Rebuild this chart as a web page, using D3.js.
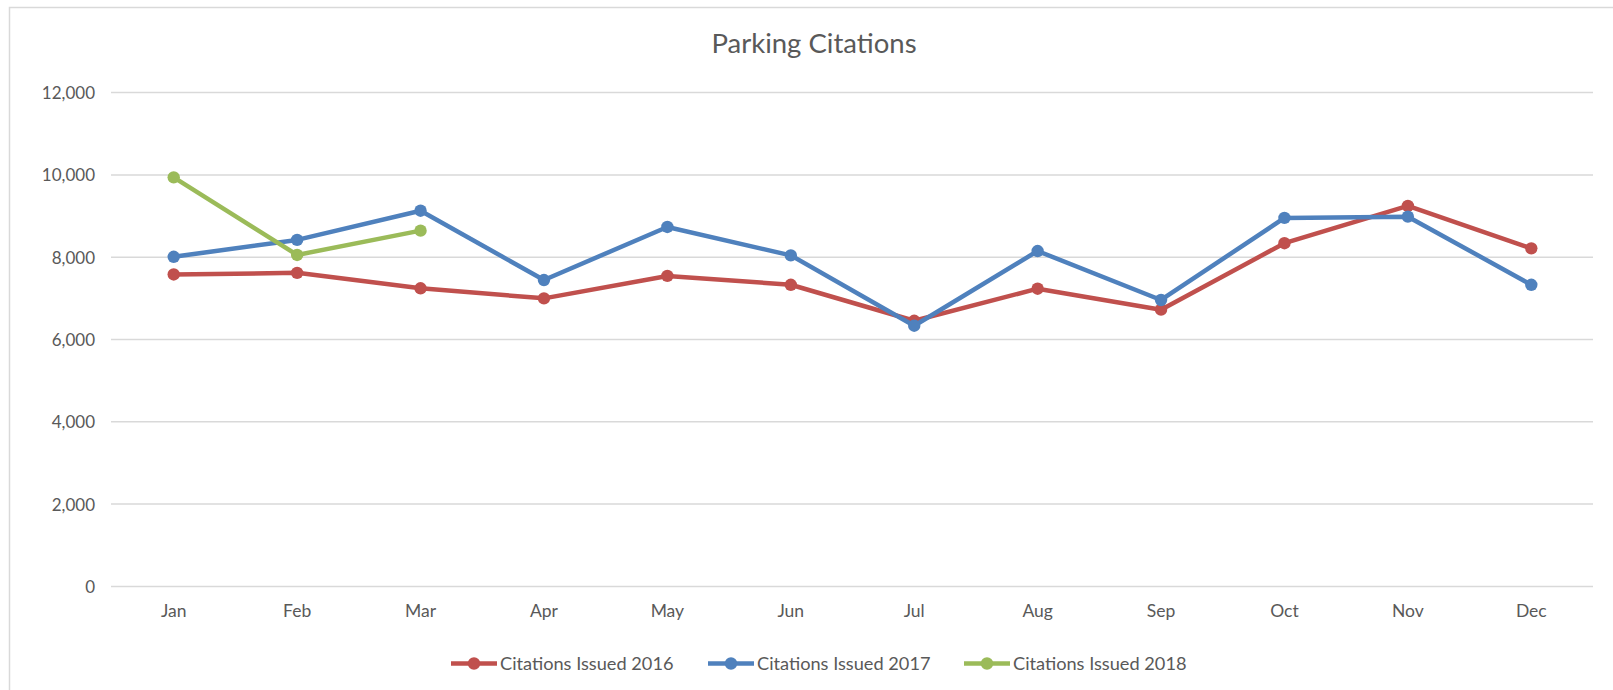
<!DOCTYPE html>
<html>
<head>
<meta charset="utf-8">
<script src="https://cdn.jsdelivr.net/npm/d3@7"></script>
<style>
  html, body { margin: 0; padding: 0; background: #fff; }
  svg { display: block; }
  text { font-family: Lato, "Open Sans", sans-serif; fill: #595959; }
</style>
</head>
<body>
<svg id="chart" width="1613" height="690"></svg>
<script>
const title = "Parking Citations";
const months = ["Jan","Feb","Mar","Apr","May","Jun","Jul","Aug","Sep","Oct","Nov","Dec"];
const seriesNames = ["Citations Issued 2016", "Citations Issued 2017", "Citations Issued 2018"];
const values2016 = [7580, 7620, 7245, 7000, 7545, 7330, 6455, 7235, 6725, 8340, 9245, 8215];
const values2017 = [8010, 8420, 9130, 7445, 8735, 8045, 6335, 8150, 6960, 8955, 8985, 7330];
const values2018 = [9940, 8055, 8645];
const yTicks = [0, 2000, 4000, 6000, 8000, 10000, 12000];
const colors = ["#C0504D", "#4F81BD", "#9BBB59"];

const series = [values2016, values2017, values2018].map((vals, i) => ({
  name: seriesNames[i], color: colors[i],
  points: vals.map((v, j) => ({ month: months[j], value: v }))
}));

const svg = d3.select("#chart");
const W = 1613, H = 690;
const plot = { left: 112, right: 1593, top: 92.6, bottom: 586.4 };

// chart border (top and left visible)
svg.append("rect")
  .attr("x", 9.5).attr("y", 7.5)
  .attr("width", W + 20).attr("height", H + 20)
  .attr("fill", "none").attr("stroke", "#d9d9d9").attr("stroke-width", 1.5);

const x = d3.scaleBand().domain(months).range([plot.left, plot.right]).paddingInner(0).paddingOuter(0);
const y = d3.scaleLinear().domain([0, 12000]).range([plot.bottom, plot.top]);

// title
svg.append("text")
  .attr("x", 814).attr("y", 53)
  .attr("text-anchor", "middle")
  .style("font-size", "27.5px")
  .text(title);

// gridlines
svg.append("g").selectAll("line").data(yTicks).join("line")
  .attr("x1", plot.left - 1).attr("x2", plot.right)
  .attr("y1", d => y(d)).attr("y2", d => y(d))
  .attr("stroke", "#d9d9d9").attr("stroke-width", 1.5);

// y axis labels
const yAxis = d3.axisLeft(y).tickValues(yTicks).tickFormat(d3.format(",")).tickSize(0).tickPadding(0);
const yg = svg.append("g").attr("transform", `translate(${95},0)`).call(yAxis);
yg.select(".domain").remove();
yg.selectAll("text").style("font-size", "17px").attr("fill", "#595959").attr("dy", "0.35em")
  .style("font-family", "Lato, 'Open Sans', sans-serif");

// x axis labels
const xAxis = d3.axisBottom(x).tickSize(0).tickPadding(0);
const xg = svg.append("g").attr("transform", `translate(0,${605})`).call(xAxis);
xg.select(".domain").remove();
xg.selectAll("text").style("font-size", "17.5px").attr("fill", "#595959").attr("dy", "0.71em")
  .style("font-family", "Lato, 'Open Sans', sans-serif");

const cx = d => x(d.month) + x.bandwidth() / 2;
const line = d3.line().x(cx).y(d => y(d.value));

const sg = svg.append("g").selectAll("g").data(series).join("g");
sg.append("path")
  .attr("d", d => line(d.points))
  .attr("fill", "none")
  .attr("stroke", d => d.color)
  .attr("stroke-width", 4.5)
  .attr("stroke-linejoin", "round");
sg.selectAll("circle").data(d => d.points.map(p => ({ ...p, color: d.color }))).join("circle")
  .attr("cx", cx).attr("cy", d => y(d.value))
  .attr("r", 6.2)
  .attr("fill", d => d.color);

// legend
const legendX = [451, 708, 964];
const lg = svg.append("g").selectAll("g").data(series).join("g")
  .attr("transform", (d, i) => `translate(${legendX[i]},${663.5})`);
lg.append("line").attr("x1", 0).attr("x2", 46).attr("y1", 0).attr("y2", 0)
  .attr("stroke", d => d.color).attr("stroke-width", 4.5);
lg.append("circle").attr("cx", 23).attr("cy", 0).attr("r", 6.2).attr("fill", d => d.color);
lg.append("text").attr("x", 49).attr("y", 0).attr("dy", "0.35em")
  .style("font-size", "18.2px").text(d => d.name);
</script>
</body>
</html>
